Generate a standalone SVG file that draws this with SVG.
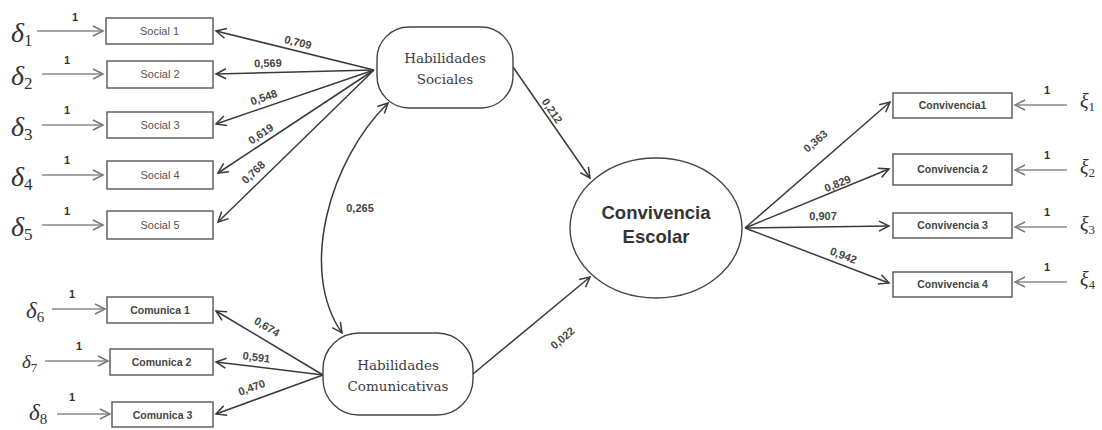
<svg xmlns="http://www.w3.org/2000/svg" width="1102" height="430" viewBox="0 0 1102 430">
<style>
.box{fill:#fff;stroke:#555;stroke-width:1.4}
.lat{fill:#fff;stroke:#444;stroke-width:1.4}
.ln{fill:none;stroke:#3a3a3a;stroke-width:1.5}
.err{fill:none;stroke:#8a8a8a;stroke-width:1.5}
.soc{font-family:"Liberation Sans",Arial,sans-serif;font-size:11px;fill:#555;text-anchor:middle}
.obs{font-family:"Liberation Sans",Arial,sans-serif;font-size:10.5px;font-weight:bold;fill:#444;text-anchor:middle}
.hab{font-family:"DejaVu Serif","Liberation Serif",serif;font-size:13.5px;fill:#3c3c3c;text-anchor:middle}
.ce{font-family:"Liberation Sans",Arial,sans-serif;font-size:18.5px;font-weight:bold;fill:#333;text-anchor:middle}
.w{font-family:"Liberation Sans",Arial,sans-serif;font-size:11px;font-weight:bold;fill:#444;text-anchor:middle}
.one{font-family:"Liberation Sans",Arial,sans-serif;font-size:11px;font-weight:bold;fill:#333;text-anchor:middle}
.gr{font-family:"Liberation Serif","DejaVu Serif",serif;fill:#333}
</style>
<defs>
<marker id="ah" markerUnits="userSpaceOnUse" markerWidth="14" markerHeight="14" refX="11" refY="6" orient="auto-start-reverse" viewBox="0 0 14 12">
<path d="M1,1 L11,6 L1,11" fill="none" stroke="#3a3a3a" stroke-width="1.5"/>
</marker>
<marker id="ahg" markerUnits="userSpaceOnUse" markerWidth="14" markerHeight="14" refX="11" refY="6" orient="auto" viewBox="0 0 14 12">
<path d="M1,1 L11,6 L1,11" fill="none" stroke="#777" stroke-width="1.5"/>
</marker>
</defs>

<g id="connectors">
<line class="err" x1="37" y1="31" x2="103" y2="31" marker-end="url(#ahg)"/>
<line class="err" x1="42" y1="74" x2="103" y2="74" marker-end="url(#ahg)"/>
<line class="err" x1="42" y1="125" x2="103" y2="125" marker-end="url(#ahg)"/>
<line class="err" x1="42" y1="175" x2="103" y2="175" marker-end="url(#ahg)"/>
<line class="err" x1="42" y1="225" x2="103" y2="225" marker-end="url(#ahg)"/>
<line class="err" x1="52" y1="309" x2="105" y2="309" marker-end="url(#ahg)"/>
<line class="err" x1="45" y1="361" x2="108" y2="361" marker-end="url(#ahg)"/>
<line class="err" x1="57" y1="414" x2="110" y2="414" marker-end="url(#ahg)"/>
<line class="err" x1="1067" y1="105" x2="1015" y2="105" marker-end="url(#ahg)"/>
<line class="err" x1="1067" y1="170" x2="1015" y2="170" marker-end="url(#ahg)"/>
<line class="err" x1="1067" y1="227" x2="1015" y2="227" marker-end="url(#ahg)"/>
<line class="err" x1="1067" y1="282" x2="1015" y2="282" marker-end="url(#ahg)"/>
<line class="ln" x1="374" y1="70" x2="216" y2="31" marker-end="url(#ah)"/>
<line class="ln" x1="374" y1="70" x2="216" y2="74" marker-end="url(#ah)"/>
<line class="ln" x1="374" y1="70" x2="216" y2="124" marker-end="url(#ah)"/>
<line class="ln" x1="374" y1="70" x2="218" y2="173" marker-end="url(#ah)"/>
<line class="ln" x1="374" y1="70" x2="218" y2="222" marker-end="url(#ah)"/>
<line class="ln" x1="323" y1="375" x2="216" y2="311" marker-end="url(#ah)"/>
<line class="ln" x1="323" y1="375" x2="216" y2="362" marker-end="url(#ah)"/>
<line class="ln" x1="323" y1="375" x2="216" y2="414" marker-end="url(#ah)"/>
<line class="ln" x1="513" y1="67" x2="590" y2="178" marker-end="url(#ah)"/>
<line class="ln" x1="473" y1="374" x2="590" y2="277" marker-end="url(#ah)"/>
<path class="ln" d="M388,103 C330,160 298,270 342,333" marker-start="url(#ah)" marker-end="url(#ah)"/>
<line class="ln" x1="745" y1="228" x2="890" y2="102" marker-end="url(#ah)"/>
<line class="ln" x1="745" y1="228" x2="889" y2="169" marker-end="url(#ah)"/>
<line class="ln" x1="745" y1="228" x2="889" y2="226" marker-end="url(#ah)"/>
<line class="ln" x1="745" y1="228" x2="889" y2="283" marker-end="url(#ah)"/>
</g>

<g id="labels">
<text class="one" x="75" y="21">1</text>
<text class="one" x="67" y="64">1</text>
<text class="one" x="67" y="114">1</text>
<text class="one" x="67" y="164">1</text>
<text class="one" x="67" y="215">1</text>
<text class="one" x="72" y="298">1</text>
<text class="one" x="79" y="350">1</text>
<text class="one" x="72" y="401">1</text>
<text class="one" x="1047" y="94">1</text>
<text class="one" x="1047" y="159">1</text>
<text class="one" x="1047" y="216">1</text>
<text class="one" x="1047" y="271">1</text>

<text class="w" transform="translate(297,46) rotate(14)">0,709</text>
<text class="w" transform="translate(268,67) rotate(-1.5)">0,569</text>
<text class="w" transform="translate(265,101) rotate(-19)">0,548</text>
<text class="w" transform="translate(263,137) rotate(-34)">0,619</text>
<text class="w" transform="translate(256,175) rotate(-44)">0,768</text>
<text class="w" transform="translate(265,330) rotate(31)">0,674</text>
<text class="w" transform="translate(256,361) rotate(7)">0,591</text>
<text class="w" transform="translate(253,391) rotate(-20)">0,470</text>
<text class="w" transform="translate(549,113) rotate(56)">0,212</text>
<text class="w" transform="translate(565,341) rotate(-40)">0,022</text>
<text class="w" x="360" y="212">0,265</text>
<text class="w" transform="translate(818,144) rotate(-41)">0,363</text>
<text class="w" transform="translate(839,187) rotate(-22)">0,829</text>
<text class="w" x="823" y="220">0,907</text>
<text class="w" transform="translate(842,259) rotate(21)">0,942</text>
</g>

<g id="errors">
<text class="gr" x="11" y="42" font-size="28" font-style="italic">δ<tspan font-size="17" font-style="normal" dy="4">1</tspan></text>
<text class="gr" x="11" y="85" font-size="28" font-style="italic">δ<tspan font-size="17" font-style="normal" dy="4">2</tspan></text>
<text class="gr" x="11" y="136" font-size="28" font-style="italic">δ<tspan font-size="17" font-style="normal" dy="4">3</tspan></text>
<text class="gr" x="11" y="186" font-size="28" font-style="italic">δ<tspan font-size="17" font-style="normal" dy="4">4</tspan></text>
<text class="gr" x="11" y="236" font-size="28" font-style="italic">δ<tspan font-size="17" font-style="normal" dy="4">5</tspan></text>
<text class="gr" x="26" y="318" font-size="23" font-style="italic">δ<tspan font-size="15" font-style="normal" dy="4">6</tspan></text>
<text class="gr" x="22" y="368" font-size="19" font-style="italic">δ<tspan font-size="13" font-style="normal" dy="4">7</tspan></text>
<text class="gr" x="29" y="420" font-size="23" font-style="italic">δ<tspan font-size="15" font-style="normal" dy="4">8</tspan></text>
<text class="gr" x="1080" y="108" font-size="20" font-style="italic">ξ<tspan font-size="13" font-style="normal" dy="3">1</tspan></text>
<text class="gr" x="1080" y="174" font-size="20" font-style="italic">ξ<tspan font-size="13" font-style="normal" dy="3">2</tspan></text>
<text class="gr" x="1080" y="231" font-size="20" font-style="italic">ξ<tspan font-size="13" font-style="normal" dy="3">3</tspan></text>
<text class="gr" x="1080" y="286" font-size="20" font-style="italic">ξ<tspan font-size="13" font-style="normal" dy="3">4</tspan></text>
</g>

<g id="social1"><rect class="box" x="106" y="18" width="107" height="26"/><text class="soc" x="159.5" y="35">Social 1</text></g>
<g id="social2"><rect class="box" x="107" y="61" width="106" height="27"/><text class="soc" x="160" y="78">Social 2</text></g>
<g id="social3"><rect class="box" x="107" y="112" width="106" height="26"/><text class="soc" x="160" y="129">Social 3</text></g>
<g id="social4"><rect class="box" x="107" y="161" width="106" height="28"/><text class="soc" x="160" y="179">Social 4</text></g>
<g id="social5"><rect class="box" x="107" y="211" width="106" height="28"/><text class="soc" x="160" y="229">Social 5</text></g>

<g id="comunica1"><rect class="box" x="107" y="297" width="106" height="26"/><text class="obs" x="160" y="314">Comunica 1</text></g>
<g id="comunica2"><rect class="box" x="110" y="349" width="103" height="26"/><text class="obs" x="161.5" y="366">Comunica 2</text></g>
<g id="comunica3"><rect class="box" x="112" y="402" width="101" height="25"/><text class="obs" x="162.5" y="419">Comunica 3</text></g>

<g id="convivencia1"><rect class="box" x="893" y="93" width="119" height="25"/><text class="obs" x="952.5" y="109">Convivencia1</text></g>
<g id="convivencia2"><rect class="box" x="893" y="154" width="119" height="31"/><text class="obs" x="952.5" y="173">Convivencia 2</text></g>
<g id="convivencia3"><rect class="box" x="893" y="213" width="119" height="25"/><text class="obs" x="952.5" y="229">Convivencia 3</text></g>
<g id="convivencia4"><rect class="box" x="893" y="272" width="119" height="25"/><text class="obs" x="952.5" y="288">Convivencia 4</text></g>

<g id="habilidades-sociales"><rect class="lat" x="377" y="27" width="136" height="81" rx="32"/><text class="hab" x="445" y="63">Habilidades</text><text class="hab" x="445" y="84">Sociales</text></g>
<g id="habilidades-comunicativas"><rect class="lat" x="323" y="333" width="150" height="82" rx="36"/><text class="hab" x="398" y="370">Habilidades</text><text class="hab" x="398" y="391">Comunicativas</text></g>
<g id="convivencia-escolar"><ellipse class="lat" cx="656" cy="228" rx="86" ry="70"/><text class="ce" x="656" y="219">Convivencia</text><text class="ce" x="656" y="243">Escolar</text></g>
</svg>
